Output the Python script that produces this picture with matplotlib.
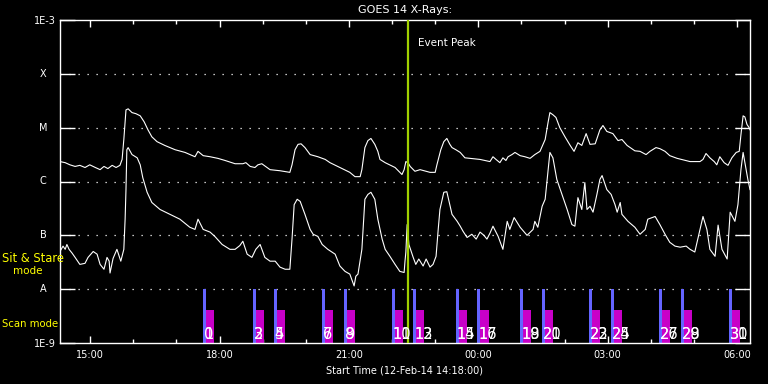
import numpy as np
import matplotlib
matplotlib.use("Agg")
import matplotlib.pyplot as plt
from matplotlib import transforms

# time axis in hours since 00:00 on 12-Feb-14 (values > 24 are on 13-Feb)
t_start, t_end = 14.3, 30.3

# GOES 14 long channel (1-8 A), log10 flux in W/m^2
long_t = [14.30, 14.42, 14.53, 14.65, 14.76, 14.88, 14.99, 15.12, 15.23, 15.32,
          15.41, 15.51, 15.60, 15.69, 15.74, 15.78, 15.83, 15.88, 15.97, 16.06,
          16.16, 16.25, 16.34, 16.43, 16.55, 16.73, 16.97, 17.20, 17.43, 17.50,
          17.62, 17.78, 17.96, 18.13, 18.36, 18.54, 18.61, 18.71, 18.82, 18.89,
          18.98, 19.17, 19.40, 19.63, 19.68, 19.75, 19.82, 19.89, 19.98, 20.10,
          20.28, 20.45, 20.56, 20.79, 21.02, 21.14, 21.26, 21.30, 21.37, 21.44,
          21.51, 21.60, 21.67, 21.72, 21.84, 22.07, 22.23, 22.28, 22.32, 22.37,
          22.42, 22.53, 22.65, 22.88, 23.00, 23.04, 23.13, 23.20, 23.27, 23.34,
          23.39, 23.48, 23.58, 23.69, 23.81, 24.04, 24.27, 24.34, 24.41, 24.50,
          24.57, 24.64, 24.69, 24.78, 24.85, 24.97, 25.08, 25.20, 25.31, 25.43,
          25.55, 25.62, 25.66, 25.73, 25.80, 25.89, 26.01, 26.13, 26.22, 26.31,
          26.40, 26.50, 26.59, 26.71, 26.82, 26.89, 26.98, 27.12, 27.24, 27.33,
          27.45, 27.63, 27.75, 27.89, 27.98, 28.12, 28.21, 28.33, 28.44, 28.61,
          28.91, 29.14, 29.21, 29.28, 29.37, 29.47, 29.53, 29.60, 29.70, 29.79,
          29.88, 29.98, 30.05, 30.09, 30.14, 30.18, 30.23, 30.28, 30.30]
long_logf = [-5.63, -5.65, -5.69, -5.72, -5.70, -5.74, -5.69, -5.74, -5.78, -5.72,
             -5.76, -5.70, -5.74, -5.70, -5.59, -5.22, -4.67, -4.65, -4.72, -4.74,
             -4.78, -4.89, -5.04, -5.17, -5.26, -5.33, -5.41, -5.46, -5.54, -5.44,
             -5.52, -5.54, -5.57, -5.61, -5.67, -5.67, -5.65, -5.72, -5.74, -5.69,
             -5.67, -5.78, -5.80, -5.83, -5.69, -5.41, -5.31, -5.30, -5.37, -5.50,
             -5.54, -5.59, -5.65, -5.74, -5.83, -5.91, -5.91, -5.78, -5.37, -5.24,
             -5.20, -5.31, -5.44, -5.59, -5.65, -5.74, -5.87, -5.78, -5.63, -5.65,
             -5.72, -5.81, -5.78, -5.83, -5.83, -5.69, -5.41, -5.26, -5.20, -5.31,
             -5.37, -5.41, -5.46, -5.56, -5.57, -5.59, -5.63, -5.54, -5.59, -5.65,
             -5.56, -5.61, -5.54, -5.50, -5.46, -5.52, -5.54, -5.57, -5.50, -5.44,
             -5.22, -4.89, -4.72, -4.76, -4.81, -5.00, -5.17, -5.33, -5.44, -5.28,
             -5.33, -5.11, -5.31, -5.30, -5.04, -4.96, -5.07, -5.11, -5.24, -5.22,
             -5.33, -5.43, -5.44, -5.50, -5.44, -5.37, -5.39, -5.44, -5.52, -5.57,
             -5.63, -5.63, -5.59, -5.48, -5.56, -5.63, -5.69, -5.54, -5.65, -5.70,
             -5.56, -5.46, -5.44, -5.13, -4.78, -4.80, -4.94, -5.00, -5.04]

# GOES 14 short channel (0.5-4 A), log10 flux in W/m^2
short_t = [14.30, 14.37, 14.42, 14.46, 14.51, 14.58, 14.65, 14.76, 14.88, 14.95,
           15.07, 15.16, 15.23, 15.32, 15.39, 15.44, 15.46, 15.53, 15.62, 15.71,
           15.78, 15.81, 15.83, 15.85, 15.88, 15.97, 16.09, 16.16, 16.22, 16.32,
           16.43, 16.62, 16.85, 17.08, 17.31, 17.43, 17.50, 17.62, 17.78, 17.89,
           18.06, 18.24, 18.36, 18.47, 18.54, 18.64, 18.75, 18.84, 18.94, 19.05,
           19.17, 19.29, 19.40, 19.52, 19.63, 19.68, 19.73, 19.80, 19.87, 19.98,
           20.10, 20.17, 20.28, 20.38, 20.51, 20.68, 20.79, 20.91, 21.02, 21.12,
           21.16, 21.21, 21.30, 21.37, 21.44, 21.51, 21.60, 21.67, 21.77, 21.84,
           21.95, 22.07, 22.18, 22.28, 22.30, 22.32, 22.35, 22.39, 22.49, 22.55,
           22.62, 22.72, 22.79, 22.88, 22.95, 23.02, 23.07, 23.11, 23.20, 23.27,
           23.39, 23.51, 23.58, 23.65, 23.74, 23.85, 23.95, 24.04, 24.13, 24.20,
           24.27, 24.34, 24.46, 24.57, 24.67, 24.73, 24.83, 24.97, 25.13, 25.27,
           25.31, 25.38, 25.48, 25.55, 25.59, 25.66, 25.73, 25.82, 25.94, 26.06,
           26.17, 26.24, 26.31, 26.40, 26.47, 26.52, 26.59, 26.66, 26.75, 26.82,
           26.87, 26.98, 27.08, 27.17, 27.22, 27.29, 27.33, 27.47, 27.63, 27.75,
           27.87, 27.93, 28.10, 28.21, 28.33, 28.44, 28.56, 28.68, 28.82, 28.91,
           29.02, 29.09, 29.21, 29.30, 29.37, 29.49, 29.56, 29.65, 29.77, 29.84,
           29.95, 30.02, 30.09, 30.14, 30.21, 30.25, 30.30]
short_logf = [-7.30, -7.20, -7.26, -7.17, -7.26, -7.33, -7.41, -7.54, -7.52, -7.41,
              -7.30, -7.35, -7.54, -7.63, -7.41, -7.48, -7.70, -7.43, -7.26, -7.48,
              -7.26, -6.70, -6.15, -5.41, -5.37, -5.50, -5.56, -5.69, -5.93, -6.20,
              -6.39, -6.52, -6.61, -6.70, -6.85, -6.89, -6.70, -6.89, -6.94, -7.02,
              -7.17, -7.26, -7.26, -7.19, -7.11, -7.35, -7.41, -7.26, -7.17, -7.41,
              -7.48, -7.48, -7.59, -7.63, -7.63, -7.07, -6.43, -6.33, -6.37, -6.61,
              -6.89, -6.98, -7.02, -7.17, -7.26, -7.35, -7.57, -7.67, -7.72, -7.94,
              -7.76, -7.72, -7.26, -6.33, -6.24, -6.20, -6.33, -6.70, -7.07, -7.26,
              -7.39, -7.54, -7.67, -7.69, -7.48, -7.31, -6.80, -7.17, -7.41, -7.54,
              -7.44, -7.57, -7.44, -7.59, -7.54, -7.39, -6.89, -6.52, -6.20, -6.19,
              -6.61, -6.74, -6.83, -6.93, -7.04, -6.98, -7.07, -6.94, -7.00, -7.07,
              -6.96, -6.83, -7.02, -7.26, -6.74, -6.89, -6.67, -6.85, -7.00, -6.89,
              -6.74, -6.85, -6.46, -6.33, -6.02, -5.46, -5.56, -5.96, -6.24, -6.52,
              -6.80, -6.83, -6.30, -6.52, -6.02, -6.52, -6.46, -6.57, -6.24, -5.96,
              -5.89, -6.15, -6.24, -6.43, -6.57, -6.39, -6.61, -6.74, -6.85, -6.98,
              -6.89, -6.70, -6.65, -6.80, -6.98, -7.13, -7.20, -7.22, -7.20, -7.26,
              -7.31, -7.07, -6.65, -6.89, -7.26, -7.39, -6.81, -7.26, -7.44, -6.57,
              -6.74, -6.43, -5.78, -5.46, -5.78, -5.96, -6.15]

# scan-mode observations (start hour), numbered 0..31 in pairs
scan_t = [17.62, 18.78, 19.26, 20.38, 20.89, 22.00, 22.49, 23.48,
          23.98, 24.97, 25.48, 26.57, 27.08, 28.19, 28.70, 29.81]
event_peak = 22.36

class_levels = [1e-8, 1e-7, 1e-6, 1e-5, 1e-4]
class_names = ['A', 'B', 'C', 'M', 'X']
xtick_hours = [15, 18, 21, 24, 27, 30]
xtick_labels = ['15:00', '18:00', '21:00', '00:00', '03:00', '06:00']

W, H = 768, 384
fig = plt.figure(figsize=(W / 100, H / 100), dpi=100, facecolor='black')
ax = fig.add_axes([60 / W, 1 - 343 / H, 690 / W, 323 / H], facecolor='black')

ax.set_yscale('log')
ax.set_xlim(t_start, t_end)
ax.set_ylim(1e-9, 1e-3)

for s in ax.spines.values():
    s.set_color('white')
    s.set_linewidth(1.0)

# dotted class lines
for lev in class_levels:
    ax.axhline(lev, color='white', lw=0.9, ls=(0, (1, 6.2)), zorder=1)

# scan bars
blue_w, mag_w = 0.07, 0.19
for t in scan_t:
    ax.bar(t, 1e-8 - 1e-9, bottom=1e-9, width=blue_w, align='edge',
           color='#6464ff', lw=0, zorder=2)
    ax.bar(t + blue_w, 10 ** -8.39 - 1e-9, bottom=1e-9, width=mag_w, align='edge',
           color='#c800c8', lw=0, zorder=2)

ax.plot(long_t, 10.0 ** np.array(long_logf), color='white', lw=0.8, zorder=3)
ax.plot(short_t, 10.0 ** np.array(short_logf), color='white', lw=0.8, zorder=3)

ax.axvline(event_peak, color='#a0d000', lw=1.6, zorder=4)
ax.text(event_peak + 0.24, 10 ** -3.43, 'Event Peak', color='white',
        fontsize=7.5, va='center', ha='left')

for k, t in enumerate(scan_t):
    for n in (2 * k, 2 * k + 1):
        ax.text(t + 0.02, 10 ** -8.93, str(n), color='white', fontsize=10.5,
                ha='left', va='baseline', zorder=5)

# axes ticks
ax.set_xticks(xtick_hours)
ax.set_xticklabels(xtick_labels)
ax.set_xticks(np.arange(15, 31), minor=True)
ax.tick_params(axis='x', which='major', direction='in', length=5, width=1,
               top=True, colors='white', labelsize=7, pad=5)
ax.tick_params(axis='x', which='minor', direction='in', length=3, width=1,
               top=True, colors='white')
ax.set_yticks([1e-9] + class_levels + [1e-3])
ax.set_yticklabels(['1E-9', '', '', '', '', '', '1E-3'])
ax.yaxis.set_minor_locator(matplotlib.ticker.NullLocator())
ax.tick_params(axis='y', which='major', direction='in', length=10.5, width=1,
               right=True, colors='white', labelsize=7, pad=3)

tr = transforms.blended_transform_factory(ax.transAxes, ax.transData)
for lev, name in zip(class_levels, class_names):
    ax.text(-17 / 690, lev, name, transform=tr, color='white', fontsize=7,
            ha='center', va='center')

ax.set_xlabel('Start Time (12-Feb-14 14:18:00)', color='white', fontsize=7,
              labelpad=4)
ax.set_title('GOES 14 X-Rays:', color='white', fontsize=8, pad=5)

fig.text(2 / W, 1 - 259 / H, 'Sit & Stare', color='yellow', fontsize=8.3,
         ha='left', va='center')
fig.text(13 / W, 1 - 271 / H, 'mode', color='yellow', fontsize=7.5,
         ha='left', va='center')
fig.text(2 / W, 1 - 324 / H, 'Scan mode', color='yellow', fontsize=7.3,
         ha='left', va='center')

fig.savefig('out.png', dpi=100, facecolor='black')
